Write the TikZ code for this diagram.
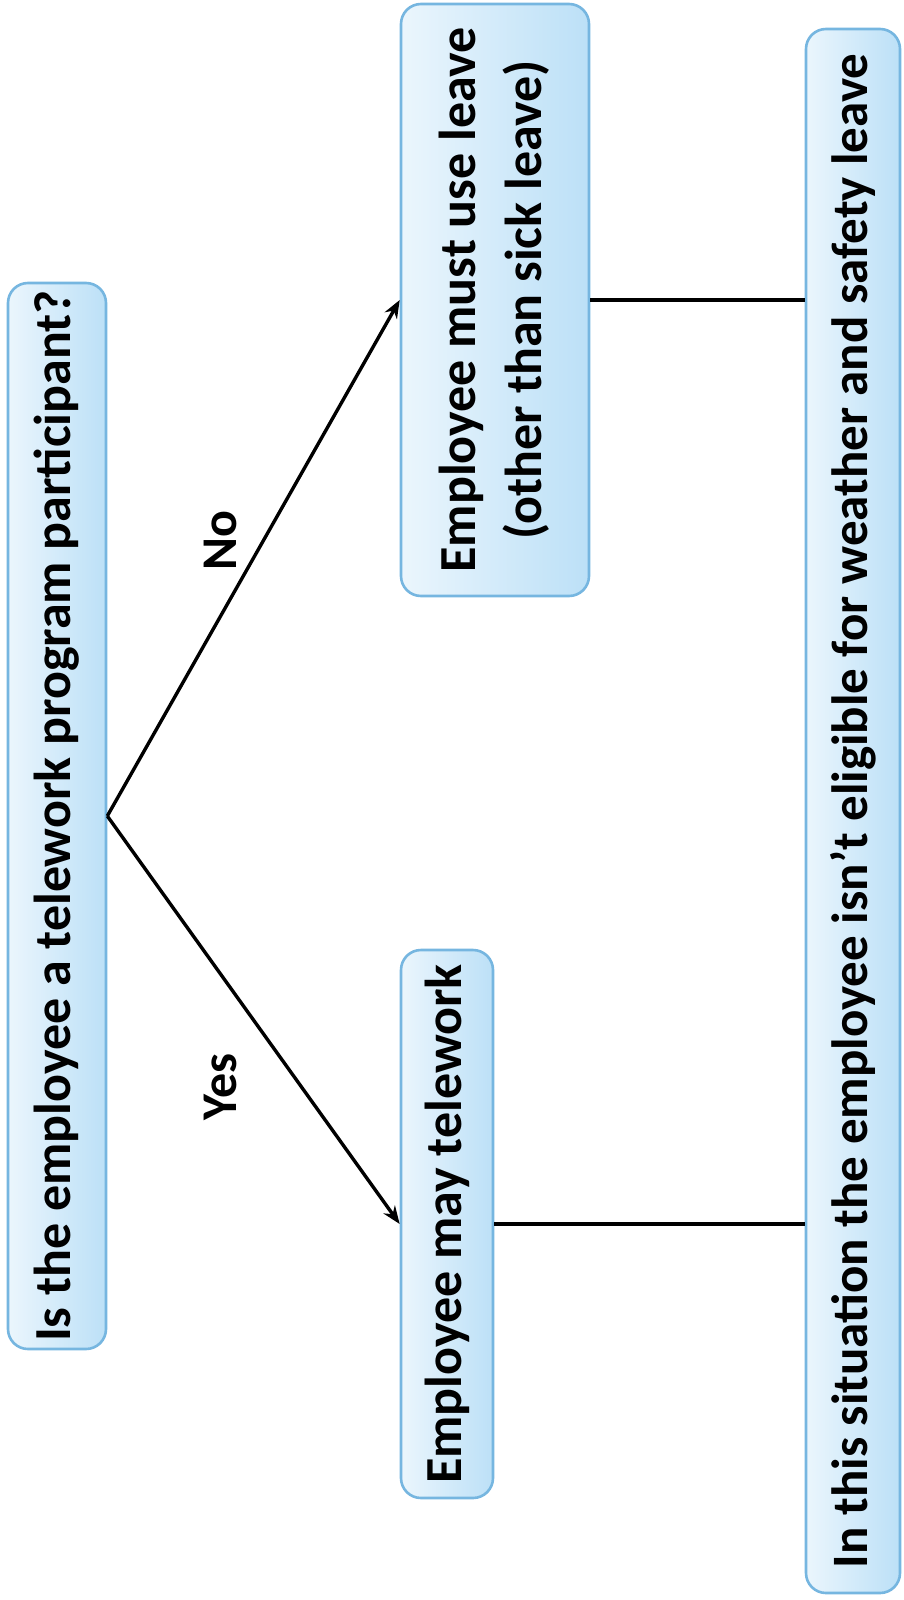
\documentclass[tikz,border=0pt]{standalone}
\usepackage{fontspec}
\setmainfont{Carlito}
\usetikzlibrary{arrows.meta}
\definecolor{boxline}{RGB}{118,182,224}
\definecolor{boxfill}{RGB}{188,224,247}
\newcommand{\boxtxt}{\fontsize{52}{66}\bfseries\selectfont}
\newcommand{\longtxt}{\fontsize{51}{60}\bfseries\selectfont}
\tikzset{
  box/.style={draw=boxline, line width=2.6pt, rounded corners=20pt, left color=white!70!boxfill, right color=boxfill, inner sep=0pt, align=center},
  conn/.style={line width=3.4pt, black},
  arr/.style={conn, -{Stealth[length=18pt,width=14pt]}},
  lbl/.style={font=\fontsize{50}{54}\bfseries\selectfont, inner sep=0pt}
}
\begin{document}
\begin{tikzpicture}[x=1pt,y=-1pt]
\useasboundingbox[fill=white] (0,0) rectangle (903,1600);
\node[box, minimum width=98pt, minimum height=1066pt] (q) at (57,816)
  {\rotatebox{90}{\boxtxt Is the employee a telework program participant?}};
\node[box, minimum width=188pt, minimum height=592pt] (no) at (495,300)
  {\rotatebox{90}{\boxtxt\begin{tabular}{@{}c@{}}Employee must use leave\\(other than sick leave)\end{tabular}}};
\node[box, minimum width=92pt, minimum height=548pt] (yes) at (447,1224)
  {\rotatebox{90}{\boxtxt Employee may telework}};
\node[box, minimum width=94pt, minimum height=1564pt] (bot) at (853,811)
  {\rotatebox{90}{\longtxt In this situation the employee isn’t eligible for weather and safety leave}};
\draw[arr] (q.east) -- (no.west);
\draw[arr] (q.east) -- (yes.west);
\draw[conn] (no.east) -- (no.east -| bot.west);
\draw[conn] (yes.east) -- (yes.east -| bot.west);
\node[lbl, rotate=90] (nolbl) at (220,541) {No};
\node[lbl, rotate=90] (yeslbl) at (220,1087) {Yes};
\end{tikzpicture}
\end{document}
